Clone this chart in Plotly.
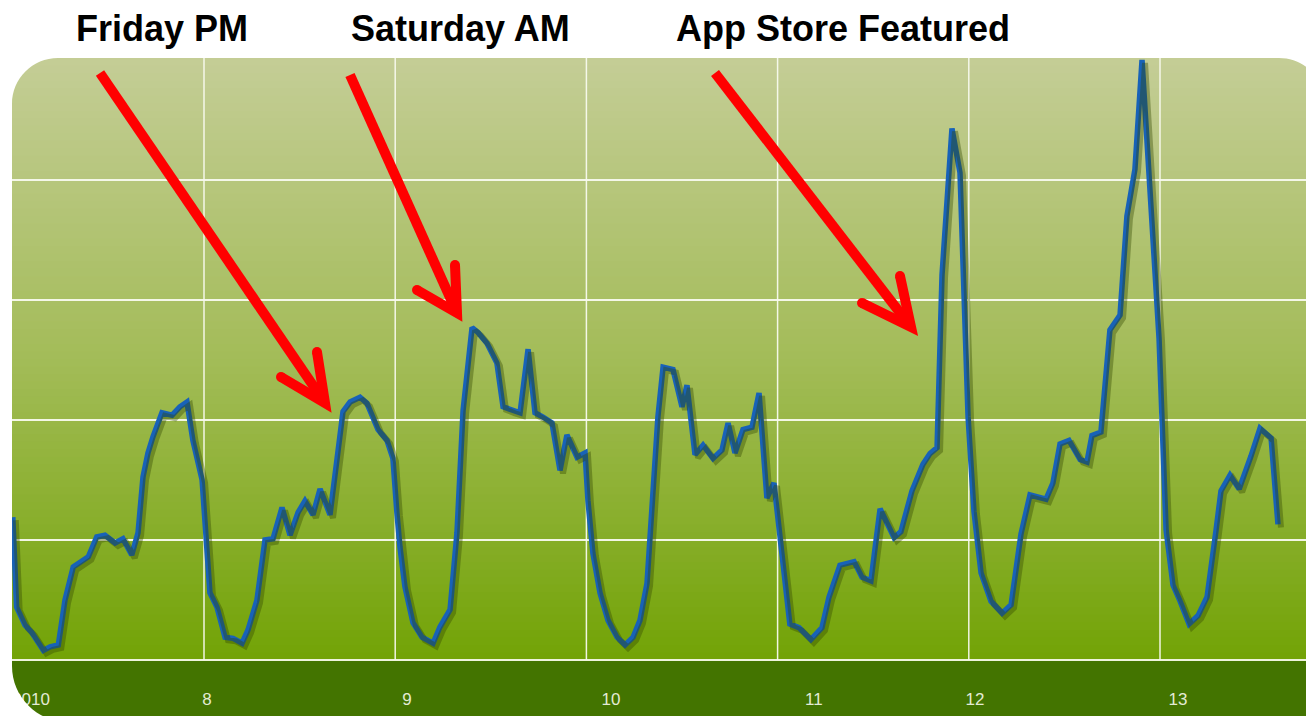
import plotly.graph_objects as go

# ---------------- data ----------------
days = [7.000, 7.020, 7.064, 7.099, 7.160, 7.195, 7.238, 7.273, 7.316, 7.351,
        7.395, 7.439, 7.482, 7.535, 7.576, 7.622, 7.655, 7.681, 7.707, 7.733,
        7.780, 7.833, 7.874, 7.911, 7.942, 7.990, 8.010, 8.031, 8.068, 8.110,
        8.152, 8.199, 8.230, 8.277, 8.319, 8.361, 8.408, 8.450, 8.492, 8.528,
        8.570, 8.607, 8.659, 8.696, 8.727, 8.764, 8.816, 8.852, 8.894, 8.910,
        8.957, 8.988, 9.009, 9.025, 9.051, 9.093, 9.140, 9.198, 9.234, 9.287,
        9.323, 9.355, 9.402, 9.433, 9.480, 9.532, 9.564, 9.611, 9.653, 9.695,
        9.731, 9.773, 9.820, 9.862, 9.898, 9.951, 9.993, 10.008, 10.034, 10.071,
        10.113, 10.160, 10.202, 10.244, 10.280, 10.317, 10.348, 10.374, 10.401, 10.453,
        10.500, 10.526, 10.568, 10.610, 10.662, 10.709, 10.741, 10.777, 10.819, 10.866,
        10.903, 10.944, 10.981, 11.028, 11.064, 11.112, 11.174, 11.232, 11.269, 11.326,
        11.400, 11.441, 11.488, 11.536, 11.609, 11.645, 11.703, 11.760, 11.797, 11.834,
        11.860, 11.912, 11.954, 11.996, 12.027, 12.064, 12.116, 12.174, 12.221, 12.273,
        12.320, 12.404, 12.440, 12.477, 12.524, 12.582, 12.618, 12.644, 12.691, 12.738,
        12.791, 12.827, 12.869, 12.906, 12.943, 12.995, 13.032, 13.068, 13.105, 13.152,
        13.199, 13.246, 13.293, 13.319, 13.366, 13.414, 13.476, 13.523, 13.581, 13.617]

visits = [1.19, 0.44, 0.29, 0.23, 0.08, 0.11, 0.125, 0.50, 0.775, 0.81,
          0.86, 1.025, 1.04, 0.975, 1.01, 0.875, 1.06, 1.525, 1.725, 1.86,
          2.06, 2.04, 2.11, 2.15, 1.83, 1.50, 1.00, 0.56, 0.44, 0.19,
          0.18, 0.14, 0.25, 0.50, 1.00, 1.01, 1.27, 1.04, 1.23, 1.325,
          1.21, 1.425, 1.21, 1.64, 2.07, 2.15, 2.19, 2.14, 1.975, 1.92,
          1.83, 1.68, 1.225, 0.94, 0.61, 0.31, 0.19, 0.14, 0.275, 0.42,
          1.06, 2.08, 2.77, 2.73, 2.64, 2.475, 2.11, 2.08, 2.06, 2.59,
          2.06, 2.025, 1.975, 1.58, 1.875, 1.69, 1.725, 1.33, 0.89, 0.56,
          0.33, 0.19, 0.125, 0.19, 0.33, 0.64, 1.33, 2.025, 2.44, 2.42,
          2.11, 2.29, 1.71, 1.79, 1.68, 1.75, 1.975, 1.725, 1.92, 1.94,
          2.225, 1.35, 1.475, 0.775, 0.30, 0.27, 0.17, 0.27, 0.525, 0.79,
          0.82, 0.69, 0.66, 1.26, 1.02, 1.07, 1.41, 1.63, 1.72, 1.77,
          3.21, 4.43, 4.06, 2.03, 1.24, 0.725, 0.49, 0.39, 0.46, 1.05,
          1.375, 1.34, 1.475, 1.80, 1.83, 1.67, 1.65, 1.87, 1.90, 2.75,
          2.875, 3.70, 4.09, 5.00, 4.09, 2.68, 1.08, 0.625, 0.49, 0.30,
          0.37, 0.525, 1.08, 1.41, 1.54, 1.425, 1.70, 1.93, 1.85, 1.13]

grid_days = [8, 9, 10, 11, 12, 13]
grid_levels = [0, 1, 2, 3, 4]
label_pos = [7.095, 8.016, 9.062, 10.129, 11.190, 12.032, 13.094]
label_text = ["2010", "8", "9", "10", "11", "12", "13"]
callout_text = ["Friday PM", "Saturday AM", "App Store Featured"]

# ---------------- geometry / style ----------------
# page body has an 8px margin: figure pixel = window pixel - 8
W, H = 1314, 716
ML, MT = 4, 50
PW, PH = 1302, 602
MR, MB = W - ML - PW, H - MT - PH
PX_PER_DAY = 191.2
PX_PER_UNIT = 120.0
x_range = [7 - 0.8 / PX_PER_DAY, 7 - 0.8 / PX_PER_DAY + PW / PX_PER_DAY]
y_range = [0, PH / PX_PER_UNIT]


def PX(px):  # window px -> paper fraction
    return (px - 8 - ML) / PW


def PY(py):
    return (MT + 8 + PH - py) / PH


shapes = []

# vertical gradient background (bands)
stops = [(0.0, (196, 205, 150)), (0.5, (163, 188, 88)), (1.0, (114, 163, 6))]


def grad(t):
    for (t0, c0), (t1, c1) in zip(stops[:-1], stops[1:]):
        if t0 <= t <= t1:
            f = (t - t0) / (t1 - t0)
            return "rgb(%d,%d,%d)" % tuple(round(a + (b - a) * f) for a, b in zip(c0, c1))
    return "rgb(%d,%d,%d)" % stops[-1][1]


N = 80
for i in range(N):
    t = (i + 0.5) / N
    shapes.append(dict(type="rect", xref="paper", yref="paper", layer="below",
                       x0=PX(12), x1=PX(1325), y0=1 - (i + 1) / N - 0.002, y1=1 - i / N,
                       fillcolor=grad(t), line=dict(width=0)))
# dark bottom strip
shapes.append(dict(type="rect", xref="paper", yref="paper", layer="below",
                   x0=PX(12), x1=PX(1325), y0=PY(730), y1=0,
                   fillcolor="#437400", line=dict(width=0)))
# light boundary line
shapes.append(dict(type="line", xref="paper", yref="paper", layer="below",
                   x0=PX(12), x1=PX(1325), y0=0, y1=0,
                   line=dict(color="#eef3dc", width=2)))

GRID = "rgba(248,250,238,0.95)"
# vertical day gridlines
for d in grid_days:
    shapes.append(dict(type="line", xref="x", yref="y", layer="below",
                       x0=d, x1=d, y0=y_range[0], y1=y_range[1],
                       line=dict(color=GRID, width=1.5)))

# rounded-corner masks
K = 0.5523


def corner(cx, cy, sx, sy, R):
    p0 = (cx + sx * R, cy)
    p1 = (cx + sx * R * (1 - K), cy)
    p2 = (cx, cy + sy * R * (1 - K))
    p3 = (cx, cy + sy * R)
    f = lambda p: "%.5f,%.5f" % (PX(p[0]), PY(p[1]))
    return "M%s L%s C%s %s %s Z" % (f((cx, cy)), f(p0), f(p1), f(p2), f(p3))


for cx, cy, sx, sy, R in [(12, 58, 1, 1, 46), (1325, 58, -1, 1, 46), (12, 722, 1, -1, 56)]:
    shapes.append(dict(type="path", xref="paper", yref="paper", layer="above",
                       path=corner(cx, cy, sx, sy, R), fillcolor="white",
                       line=dict(width=0)))

# red arrows (tail, tip, prong1, prong2) in window pixels
arrows = [((100, 73), (325, 403), (317, 352), (281, 377)),
          ((350, 75), (457, 313), (455, 265), (417, 290)),
          ((715, 73), (911, 327), (900, 276), (862, 303))]
RED = "#ff0000"
for tail, tip, p1, p2 in arrows:
    f = lambda p: "%.5f,%.5f" % (PX(p[0]), PY(p[1]))
    shapes.append(dict(type="path", xref="paper", yref="paper", layer="above",
                       path="M%s L%s" % (f(tail), f(tip)),
                       line=dict(color=RED, width=10)))
    shapes.append(dict(type="path", xref="paper", yref="paper", layer="above",
                       path="M%s L%s L%s" % (f(p1), f(tip), f(p2)),
                       line=dict(color=RED, width=10)))
    for p in (p1, p2):
        shapes.append(dict(type="circle", xref="paper", yref="paper", layer="above",
                           x0=PX(p[0] - 5), x1=PX(p[0] + 5), y0=PY(p[1] + 5), y1=PY(p[1] - 5),
                           fillcolor=RED, line=dict(width=0)))

# ---------------- figure ----------------
fig = go.Figure()
fig.add_trace(go.Scatter(x=days, y=visits, mode="lines", xaxis="x2", yaxis="y2",
                         line=dict(color="rgba(50,72,0,0.38)", width=6),
                         hoverinfo="skip", showlegend=False))
fig.add_trace(go.Scatter(x=days, y=visits, mode="lines",
                         line=dict(color="#1862b8", width=5.5),
                         hoverinfo="skip", showlegend=False))

annotations = []
for txt, cx in zip(callout_text, [162, 460, 843]):
    annotations.append(dict(text=txt, xref="paper", yref="paper", x=PX(cx), y=PY(28),
                            xanchor="center", yanchor="middle", showarrow=False,
                            font=dict(family="Liberation Sans, Arial, sans-serif",
                                      size=36, color="#000000", weight="bold")))

fig.update_layout(
    width=W, height=H,
    margin=dict(l=ML, r=MR, t=MT, b=MB),
    paper_bgcolor="white", plot_bgcolor="rgba(0,0,0,0)",
    showlegend=False,
    shapes=shapes, annotations=annotations,
    xaxis=dict(range=x_range, tickvals=label_pos, ticktext=label_text,
               showgrid=False, zeroline=False, showline=False, ticks="",
               ticklabelstandoff=27, fixedrange=True,
               tickfont=dict(family="Liberation Sans, Arial, sans-serif", size=17,
                             color="#e4ebd4")),
    yaxis=dict(range=y_range, tickvals=grid_levels, showticklabels=False, ticks="",
               showgrid=True, gridcolor=GRID, gridwidth=1.5, zeroline=False,
               showline=False, fixedrange=True),
    xaxis2=dict(overlaying="x", anchor="y", visible=False,
                range=[x_range[0] - 3 / PX_PER_DAY, x_range[1] - 3 / PX_PER_DAY]),
    yaxis2=dict(overlaying="y", anchor="x", visible=False,
                range=[y_range[0] + 3 / PX_PER_UNIT, y_range[1] + 3 / PX_PER_UNIT]),
)

fig.write_html("out.html")
